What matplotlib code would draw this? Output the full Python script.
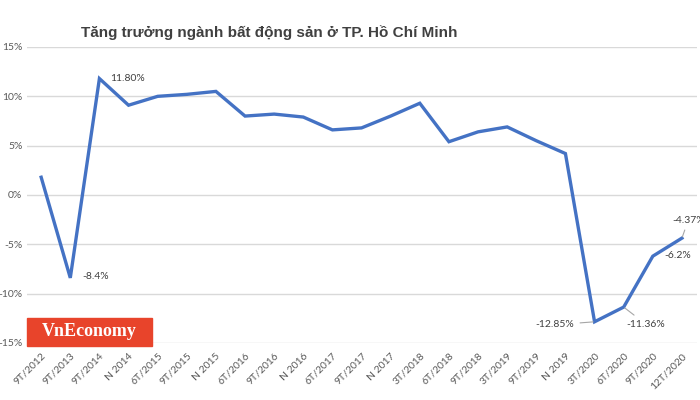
import matplotlib.pyplot as plt
from matplotlib.patches import Rectangle

# Data
periods = ["9T/2012", "9T/2013", "9T/2014", "N 2014", "6T/2015", "9T/2015", "N 2015",
           "6T/2016", "9T/2016", "N 2016", "6T/2017", "9T/2017", "N 2017", "3T/2018",
           "6T/2018", "9T/2018", "3T/2019", "9T/2019", "N 2019", "3T/2020", "6T/2020",
           "9T/2020", "12T/2020"]
growth = [1.8, -8.4, 11.8, 9.1, 10.0, 10.2, 10.5, 8.0, 8.2, 7.9, 6.6, 6.8, 8.0, 9.3,
          5.4, 6.4, 6.9, 5.5, 4.2, -12.85, -11.36, -6.2, -4.37]
yticks = [-15, -10, -5, 0, 5, 10, 15]

# labelled points: index, text, offset (px), alignment, leader line
labels = [
    (1, "-8.4%", (12, 1), "left", False),
    (2, "11.80%", (11, 0), "left", False),
    (19, "-12.85%", (-20, -3), "right", True),
    (20, "-11.36%", (22, -17), "center", True),
    (21, "-6.2%", (12, 1), "left", False),
    (22, "-4.37%", (-10, 18), "left", True),
]

line_color = "#4472C4"
tick_color = "#595959"
plt.rcParams["font.family"] = ["Lato", "DejaVu Sans"]

fig = plt.figure(figsize=(7, 4), dpi=100)
ax = fig.add_axes([0.038, 0.1425, 0.957, 0.74])

x = list(range(len(periods)))
ax.plot(x, growth, color=line_color, lw=2.4, solid_joinstyle="miter", zorder=3)

ax.set_xlim(-0.5, len(periods) - 0.5)
ax.set_ylim(-15, 15)
ax.set_yticks(yticks)
ax.set_yticklabels([f"{v}%" for v in yticks])
ax.set_xticks(x)
ax.set_xticklabels(periods, rotation=45, ha="right", rotation_mode="anchor")
ax.tick_params(axis="both", length=0, labelsize=7.5, colors=tick_color)
ax.tick_params(axis="y", pad=3)
ax.tick_params(axis="x", pad=6)
ax.grid(axis="y", color="#d9d9d9", lw=1)
ax.set_axisbelow(True)
for s in ax.spines.values():
    s.set_visible(False)

px = 72 / 100  # pixels -> points
for i, txt, (dx, dy), ha, leader in labels:
    ax.annotate(txt, (x[i], growth[i]), xytext=(dx * px, dy * px),
                textcoords="offset points", ha=ha, va="center",
                fontsize=7.5, color="#404040", annotation_clip=False,
                arrowprops=dict(arrowstyle="-", color="#a6a6a6", lw=0.8,
                                shrinkA=2, shrinkB=1) if leader else None)

fig.text(0.385, 0.918, "Tăng trưởng ngành bất động sản ở TP. Hồ Chí Minh",
         ha="center", va="center", fontsize=11, fontweight="bold",
         color="#404040", family=["Liberation Sans", "DejaVu Sans"])

# VnEconomy logo
fig.patches.append(Rectangle((27 / 700, 1 - 346 / 400), 125 / 700, 28 / 400,
                             transform=fig.transFigure, color="#E8442B", zorder=5))
fig.text(89.5 / 700, 1 - 332 / 400, "VnEconomy", ha="center", va="center",
         fontsize=13, fontweight="bold", color="white",
         family=["Liberation Serif", "DejaVu Serif"], zorder=6)

fig.savefig("out.png", dpi=100)
